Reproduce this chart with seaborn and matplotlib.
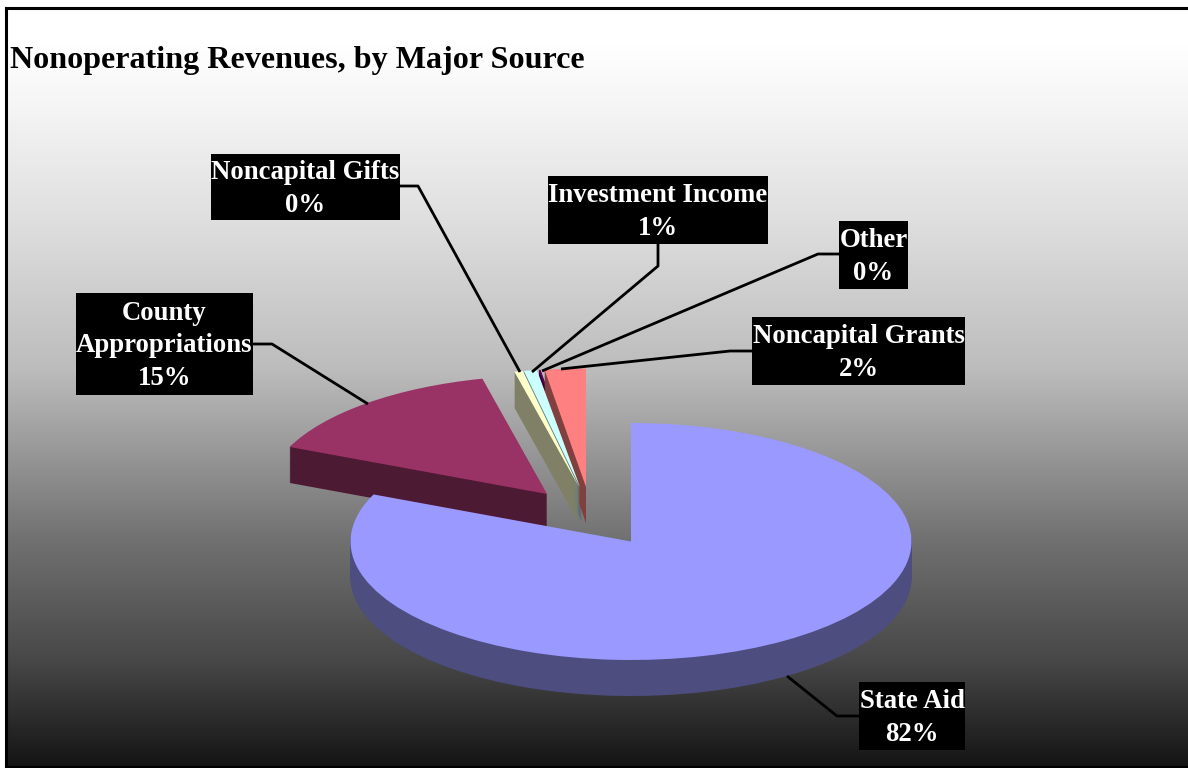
import numpy as np
import seaborn as sns
import matplotlib.pyplot as plt
from matplotlib.patches import Rectangle

# data
names = ['State Aid', 'County\nAppropriations', 'Noncapital Gifts',
         'Investment Income', 'Other', 'Noncapital Grants']
values = [81.5, 14.8, 0.49, 0.75, 0.1, 2.36]
title = 'Nonoperating Revenues, by Major Source'

# slice colours, top face and side wall
top_colors = ['#9999FF', '#993366', '#FFFFCC', '#CCFFFF', '#660066', '#FF8080']
wall_colors = ['#4D4D80', '#4D1A33', '#808066', '#668080', '#330033', '#804040']

W, H = 1188, 768
CX, CY = 631, 541.5     # centre of the big slice, in pixels
RX, RY = 280.5, 118.5   # the tilted pie is an ellipse
DEPTH = 36

# where each slice was dragged to (pixels), the small ones share a spot
apex = [(631, 541.5), (547, 494), (579, 487), (580, 487), (582, 487), (586, 487)]
# back to front
wall_z = [2, 1, 12, 10, 6, 8]
top_z = [3, 4, 13, 11, 7, 9]

# label boxes: left, top, right, bottom
boxes = [(859, 682, 965, 750), (76, 293, 253, 395), (211, 154, 400, 220),
         (548, 176, 768, 244), (839, 221, 908, 289), (752, 317, 965, 385)]
leaders = [[(859, 716), (837, 716), (787, 676)],
           [(253, 344), (272, 344), (368, 404)],
           [(400, 186), (418, 186), (520, 372)],
           [(658, 244), (658, 266), (532, 372)],
           [(839, 254), (818, 254), (542, 371)],
           [(752, 351), (730, 351), (561, 369)]]

sns.set_theme(style='white')
plt.rcParams['font.family'] = ['Liberation Serif', 'DejaVu Serif']

fig = plt.figure(figsize=(W / 100, H / 100), dpi=100, facecolor='white')

# background gradient, white at the top to near black
ax = fig.add_axes([6 / W, 1 / H, (W - 6) / W, (H - 9) / H])
rows = np.arange(8, 767)
shade = np.interp(rows, [8, 40, 100, 220, 370, 540, 660, 766],
                  [255, 255, 245, 222, 187, 112, 71, 20])
sns.heatmap(shade[:, None], ax=ax, cmap='gray', vmin=0, vmax=255, cbar=False,
            xticklabels=False, yticklabels=False)
for side, spine in ax.spines.items():
    spine.set_visible(side != 'right')
    spine.set_color('black')
    spine.set_linewidth(2.2)

# pie axes: x and y scaled so a unit circle lands on the ellipse
pie_ax = fig.add_axes([0, 0, 1, 1], facecolor='none', zorder=2)


def place(wedges, colors, zorders, drop):
    for w, (px, py), c, z in zip(wedges, apex, colors, zorders):
        w.set_center(((px - CX) / RX, (CY - py - drop) / RY))
        w.set_facecolor(c)
        w.set_edgecolor('none')
        w.set_zorder(z)


for drop in range(DEPTH, 0, -1):
    wedges, _ = pie_ax.pie(values, startangle=90, counterclock=False, radius=1)
    place(wedges, wall_colors, wall_z, drop)
wedges, _ = pie_ax.pie(values, startangle=90, counterclock=False, radius=1)
place(wedges, top_colors, top_z, 0)

pie_ax.set_aspect('auto')
pie_ax.set_xlim(-CX / RX, (W - CX) / RX)
pie_ax.set_ylim((CY - H) / RY, CY / RY)
pie_ax.axis('off')

# overlay in pixels for title, labels and leader lines
top = fig.add_axes([0, 0, 1, 1], facecolor='none', zorder=3)
top.set_xlim(0, W)
top.set_ylim(H, 0)
top.axis('off')

top.text(10, 68, title, fontsize=23.1, fontweight='bold', color='black',
         ha='left', va='baseline')

for name, v, box, line in zip(names, values, boxes, leaders):
    xs, ys = zip(*line)
    top.plot(xs, ys, color='black', lw=2, solid_capstyle='butt')
    x0, y0, x1, y1 = box
    top.add_patch(Rectangle((x0, y0), x1 - x0, y1 - y0, color='black', lw=0))
    top.text((x0 + x1) / 2, (y0 + y1) / 2 + 2, f'{name}\n{round(v)}%', color='white',
             fontsize=19.3, fontweight='bold', ha='center', va='center',
             linespacing=1.38)

fig.savefig('out.png', dpi=100)
